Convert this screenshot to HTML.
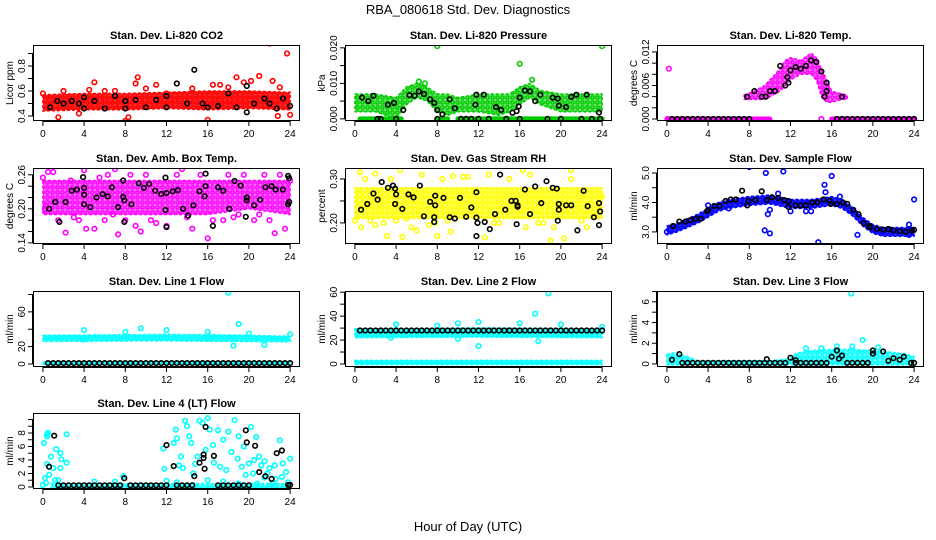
<!DOCTYPE html>
<html><head><meta charset="utf-8"><style>
html,body{margin:0;padding:0;background:#fff;}
svg{display:block;font-family:"Liberation Sans",Arial,sans-serif;}
</style></head><body>
<svg id="chart" width="936" height="540" viewBox="0 0 936 540" xmlns="http://www.w3.org/2000/svg">
<defs id="defs"></defs>
<text x="468" y="14" text-anchor="middle" font-size="13">RBA_080618  Std. Dev. Diagnostics</text>
<text x="468" y="531" text-anchor="middle" font-size="13">Hour of Day (UTC)</text>
</svg>
<script>
// ---------- data ----------
const xTicks = [0,4,8,12,16,20,24];

// P1 CO2
const co2BandX = [0,4,8,12,16,20,24];
const co2BandLo = [0.44,0.45,0.45,0.46,0.45,0.46,0.45];
const co2BandHi = [0.57,0.58,0.58,0.59,0.60,0.60,0.59];
const co2PtsX = [0,1.5,2,3.5,4.5,5,6,7,8,8.3,9,9.2,10,11,12,14.5,16,16.5,17.2,18,18.8,19.5,20.2,21,22,22.3,22.8,23,23.7,24];
const co2PtsY = [0.58,0.39,0.6,0.42,0.61,0.67,0.6,0.6,0.36,0.39,0.66,0.71,0.62,0.65,0.58,0.62,0.37,0.65,0.65,0.63,0.71,0.67,0.68,0.72,0.98,0.68,0.4,0.63,0.9,0.41];
const co2BlkX = [0.7,1.4,2,2.8,3.5,4,4,5,6,7,8,8,9,10,11,12,12,13,14,14.7,15.5,16,17,18,18.8,19.8,19.8,20.5,21.5,22,22.7,23.3,24];
const co2BlkY = [0.47,0.52,0.5,0.52,0.5,0.55,0.46,0.52,0.46,0.56,0.52,0.46,0.53,0.47,0.53,0.56,0.47,0.66,0.5,0.77,0.5,0.47,0.48,0.58,0.47,0.64,0.43,0.5,0.54,0.5,0.46,0.54,0.48];

// P2 Pressure
const prBandX = [0,2,4,5,6,7,8,9,10,12,14,15,16,17,18,20,22,24];
const prBandLo = [0.002,0.002,0.000,0.004,0.006,0.005,0.002,0.001,0.002,0.002,0.001,0.002,0.004,0.006,0.004,0.002,0.002,0.002];
const prBandHi = [0.007,0.007,0.006,0.009,0.010,0.009,0.007,0.007,0.006,0.007,0.007,0.007,0.009,0.010,0.008,0.007,0.007,0.007];
const prZeroStart = [0.5,8,10];
const prZeroEnd = [4.5,9,24];
const prPtsX = [8,24,16,17.2,6.2,6.8];
const prPtsY = [0.0205,0.0205,0.0155,0.011,0.0105,0.01];
const prBlkX = [0.7,1.3,1.8,2.2,2.5,3.2,3.8,4,4.7,5.3,5.8,6.2,6.7,7.3,7.7,8,8,8.5,9.2,9.7,10.3,10.8,11.3,11.7,11.8,12,12.5,13,13.7,14.2,14.7,15.3,15.7,15.9,16,16,16.5,17,17.5,18,18.7,19.2,19.7,19.8,20,20.5,21,21.5,22,22.5,23,23.7,23.8];
const prBlkY = [0.006,0.005,0.0065,0,0,0.004,0.0045,0,0.0025,0.0067,0.0065,0.0077,0.007,0.0055,0.0045,0.0025,0,0.0013,0.0055,0.003,0,0,0,0.004,0.0068,0,0.0068,0,0.0033,0.0025,0,0.0017,0.0022,0.0035,0.006,0,0.008,0.0077,0.005,0.0068,0,0.006,0.0057,0.0037,0,0.0033,0.0062,0.0068,0,0.0068,0,0.0018,0];

// P3 Temp
const tpBandX = [7.5,8.5,9.5,10,11,11.5,12,13,14,14.5,15,15.5,16,17,17.5];
const tpBandLo = [0.0035,0.0035,0.0035,0.004,0.005,0.006,0.007,0.008,0.008,0.007,0.004,0.003,0.003,0.0035,0.0035];
const tpBandHi = [0.0043,0.005,0.006,0.007,0.009,0.0105,0.011,0.0105,0.0118,0.011,0.009,0.007,0.005,0.0045,0.0043];
const tpZeroStart = [0,16];
const tpZeroEnd = [10,24];
const tpPtsX = [0.2,15,0.1];
const tpPtsY = [0.009,0,0];
const tpBlkX = [8.5,7.8,9.2,9.6,10,10.5,11,11.5,11.7,11.8,12,12.5,13,13.5,14,14.5,15,15.5,15.5,15.3,17];
const tpBlkY = [0.005,0.004,0.004,0.004,0.005,0.005,0.0095,0.006,0.0075,0.0065,0.0087,0.0093,0.009,0.0095,0.0105,0.0102,0.0085,0.0065,0.005,0.004,0.004];
const tpBlkZeroX = [0.5,1,1.5,2,2.5,3,3.5,4,4.5,5,5.5,6,6.5,7,7.5,8,16.5,17,17.5,18,18.5,19,19.5,20,20.5,21,21.5,22,22.5,23,23.5,24];

// P4 Amb Box Temp
const abBandX = [0,4,8,12,16,20,24];
const abBandLo = [0.19,0.19,0.19,0.19,0.19,0.2,0.19];
const abBandHi = [0.25,0.25,0.25,0.25,0.25,0.25,0.25];
const abPtsX = [0,0.5,1,1.5,2.2,2.7,3.5,4,4.2,5,5.5,6,6.3,7,7.3,8,8.5,9,9.5,10,11,12,13,13.5,14.5,15.3,16,16.5,17.5,18,19,19.5,20.5,21.5,22,22.5,23,23.5,24,0.3,3,6.8,10.5,14,18.5,21,0.2];
const abPtsY = [0.255,0.265,0.265,0.18,0.158,0.25,0.18,0.268,0.165,0.165,0.255,0.18,0.26,0.27,0.155,0.18,0.26,0.17,0.16,0.26,0.175,0.17,0.26,0.27,0.165,0.26,0.148,0.18,0.18,0.26,0.19,0.26,0.18,0.26,0.18,0.157,0.26,0.165,0.25,0.205,0.185,0.19,0.18,0.185,0.185,0.19,0.2];
const abBlkX = [0.6,1.2,1.6,2.2,2.8,3.3,3.9,4,4,4,4.6,5.2,5.8,6.3,6.7,7.3,7.8,7.8,7.9,7.9,8.6,9.3,9.8,10.3,10.9,11.5,12,11.9,11.9,12,12.6,13.1,13.6,14.1,14.6,15.2,15.7,15.8,15.8,16.5,17,17.5,18.1,18.6,19.2,19.7,19.8,19.8,20.5,21.1,21.6,22.2,22.6,23.3,23.8,23.9,23.8,23.9];
const abBlkY = [0.2,0.212,0.177,0.212,0.232,0.234,0.256,0.237,0.225,0.208,0.203,0.22,0.226,0.222,0.238,0.203,0.25,0.221,0.215,0.177,0.208,0.245,0.237,0.244,0.232,0.226,0.228,0.255,0.198,0.168,0.231,0.233,0.2,0.188,0.206,0.231,0.222,0.262,0.24,0.17,0.238,0.232,0.2,0.249,0.241,0.186,0.22,0.215,0.206,0.216,0.238,0.24,0.234,0.234,0.258,0.254,0.208,0.212];

// P5 Gas Stream RH
const rhBandX = [0,4,8,12,16,20,24];
const rhBandLo = [0.21,0.21,0.21,0.21,0.21,0.21,0.21];
const rhBandHi = [0.28,0.28,0.28,0.28,0.28,0.28,0.28];
const rhPtsX = [0,0.5,0.6,1,2,2,2.8,3.1,3.5,4.4,4.6,4,5.5,6,6.5,7.2,7.8,8,8.5,9.3,9.5,10.5,11,12.6,13,14,15,16.3,16.6,17,18.3,19,19.3,20.3,21,21,22.5,24,1.5,5,9,13.5,17.8,22];
const rhPtsY = [0.205,0.315,0.19,0.3,0.312,0.195,0.2,0.17,0.3,0.32,0.168,0.205,0.19,0.183,0.31,0.195,0.2,0.17,0.3,0.18,0.307,0.305,0.305,0.167,0.31,0.2,0.3,0.32,0.19,0.31,0.2,0.16,0.19,0.165,0.32,0.3,0.19,0.26,0.205,0.21,0.205,0.2,0.2,0.205];
const rhBlkX = [0.6,1.2,1.8,2.2,2.6,3.2,3.7,3.9,3.9,4,4.6,5.2,5.7,6.3,6.7,7.3,7.7,7.7,7.8,7.8,8.6,9.2,9.7,10.2,10.8,11.3,11.8,11.8,11.9,11.8,12.6,13.1,13.6,14.1,14.6,15.2,15.6,15.8,15.8,15.7,16.5,17,17.5,18.1,18.6,19.2,19.6,19.8,19.8,19.7,20.5,21,21.6,22.2,22.6,23.2,23.7,23.8,23.7];
const rhBlkY = [0.23,0.243,0.267,0.253,0.293,0.28,0.285,0.278,0.243,0.265,0.232,0.265,0.258,0.285,0.215,0.248,0.213,0.202,0.262,0.24,0.257,0.213,0.21,0.257,0.214,0.235,0.27,0.212,0.2,0.17,0.202,0.186,0.22,0.31,0.23,0.25,0.25,0.24,0.237,0.197,0.276,0.22,0.283,0.245,0.295,0.28,0.278,0.243,0.23,0.205,0.24,0.24,0.183,0.273,0.238,0.213,0.245,0.226,0.195];

// P6 Sample Flow
const sfBandX = [0,1,2,3,4,5,6,7,8,10,12,14,16,17,18,19,20,21,22,24];
const sfBandMid = [3.05,3.15,3.3,3.45,3.65,3.85,3.95,4.0,4.05,4.1,3.95,3.95,4.05,3.95,3.7,3.35,3.1,3.0,3.0,3.0];
const sfBandHalf = 0.15;
const sfPtsX = [8,9.6,11.3,15.3,16,9.5,10,14.7,18.5,24,4,6,10,9.8,12,13.5,14,15.4,23.5,23.5,0,10.8,16.8];
const sfPtsY = [5.2,5.0,5.05,4.6,4.9,3.05,2.95,2.65,2.9,4.1,3.9,3.8,3.75,3.6,3.7,3.7,3.7,4.35,3.25,2.9,3.0,4.3,4.2];
const sfBlkX = [0.6,1.2,1.8,2.3,2.8,3.3,3.9,4,4.6,5.1,5.7,6.2,6.7,7.3,7.8,7.9,8.6,9.2,9.7,10.2,10.8,11.4,11.8,11.8,12.5,13,13.5,14.1,14.6,15.2,15.8,15.9,16.5,17.1,17.5,18.1,18.6,19.1,19.7,19.7,20.4,21,21.5,22,22.6,23.2,23.8,24];
const sfBlkY = [3.2,3.35,3.35,3.4,3.45,3.45,3.7,3.75,3.88,3.88,4.05,4.1,4.1,4.4,3.9,4.05,4.08,4.38,4.08,4.18,4.15,4.08,4.05,3.85,3.9,3.9,3.9,4.0,4.0,4.1,4.05,3.95,3.95,4.0,3.95,3.75,3.6,3.3,3.2,3.15,3.1,3.08,3.1,3.05,3.02,3.0,3.05,3.07];

// P7 Line 1 Flow
const l1BandX = [0,12,18,24];
const l1BandLo = [26,26.5,26,25.5];
const l1BandHi = [33,34,33.5,32];
const l1ZeroLo = -0.5, l1ZeroHi = 2.5;
const l1PtsX = [18,19,18.5,4,8,9.5,12,16,20,21.5,24,16,3.9];
const l1PtsY = [82,46,21,39,37,41,39,37,35,22,34,29,28];
const l1BlkZeroX = [0.5,1,1.5,2,2.5,3,3.5,4,4.5,5,5.5,6,6.5,7,7.5,8,8.5,9,9.5,10,10.5,11,11.5,12,12.5,13,13.5,14,14.5,15,15.5,16,16.5,17,17.5,18,18.5,19,19.5,20,20.5,21,21.5,22,22.5,23,23.5,24];
const l1BlkZeroY = 1;

// P8 Line 2 Flow
const l2BandX = [0,12,24];
const l2BandLo = [22,22.5,22];
const l2BandHi = [29.5,30,29.5];
const l2ZeroLo = -0.5, l2ZeroHi = 3;
const l2PtsX = [18.8,17.5,4,8,10,12,16,20,24,17.8,12,3.5,10];
const l2PtsY = [59,42,33,32,34,35,34,33,31,19,15,22,21];
const l2BlkZeroX = [0.5,1,1.5,2,2.5,3,3.5,4,4.5,5,5.5,6,6.5,7,7.5,8,8.5,9,9.5,10,10.5,11,11.5,12,12.5,13,13.5,14,14.5,15,15.5,16,16.5,17,17.5,18,18.5,19,19.5,20,20.5,21,21.5,22,22.5,23,23.5,24];
const l2BlkZeroY = 28;

// P9 Line 3 Flow
const l3BandX = [0,0.5,1,2,3,5,10,12,12.5,14,16,18,20,22,23,24];
const l3BandLo = [-0.1,-0.1,-0.1,-0.1,-0.1,-0.1,-0.1,-0.1,-0.1,-0.1,-0.1,-0.1,-0.1,-0.1,-0.1,-0.1];
const l3BandHi = [0.9,1.05,1.0,0.7,0.3,0.3,0.3,0.5,1.0,1.3,1.4,1.4,1.3,1.1,1.0,0.7];
const l3PtsX = [17.9,19,18,20.5,13.5,15,16.5];
const l3PtsY = [6.8,2.3,1.7,1.6,1.5,1.5,1.7];
const l3BlkX = [0.5,1.2,9.7,12,12.5,16,16.5,16.7,17,20,20,21,21.5,22,22.6,23,23.7];
const l3BlkY = [0.4,0.95,0.45,0.6,0.35,0.7,1.3,0.5,0.8,1.3,1.0,1.2,0.3,0.55,0.4,0.7,0.1];
const l3BlkZeroX = [1.5,2,2.5,3,3.5,4,4.5,5,5.5,6,6.5,7,7.5,8,8.5,9,9.5,10,10.5,11,11.5,12.5,13,13.5,14,14.5,15,15.5,17.5,18,18.5,19,19.5,24];
const l3BlkZeroY = 0.1;

// P10 Line 4 Flow
const l4BandX = [0.8,24];
const l4BandLo = [-0.1,-0.1];
const l4BandHi = [0.5,0.5];
const l4PtsX = [0.1,0.2,0.4,0.4,0.5,0.4,0.6,0.8,1,1.3,1.7,1.8,1.7,2.3,2.3,1.2,1.5,7.8,7,5,12,11.7,11.8,12.7,12.9,13,13.2,13.4,13.6,13.8,14,14.2,14.4,14.6,14.8,15,15.2,15.5,15.8,16,16.2,16.5,16.6,17,17.2,17.5,17.8,18,18.3,18.6,18.9,19,19.3,19.5,19.7,20,20.2,20.4,20.7,21,21.2,21.5,21.8,22,22.3,22.6,23,23.3,23.6,23.8,24,20.8,19,17.5,16,14.5,13,21.5,22.5,23.2,20.5,0,0.3];
const l4PtsY = [6.5,1.3,7.5,7.8,8,3.4,1.8,4.5,2.8,5.6,5,4.1,2.8,7.8,3.6,1,1,1.6,0.8,0.8,0.9,5.7,2.7,6.5,8.5,7.2,3.2,4.5,2.8,9.8,9,7.5,6.5,2,3.4,4.5,9.8,9.5,5.5,10.2,8.5,6.2,3.6,8.4,3,7,2.5,8.2,5.2,9.9,4.2,7.5,3,6,1.8,3.5,8.9,2,7.4,4.5,3.2,1.4,2,2.8,0.5,1.2,6.9,3.5,2.2,0.7,4.2,0.5,0.5,0.8,1,0.3,0.7,3.8,3.2,1.5,4,0.3,0.6];
const l4BlkX = [0.6,1.1,7.9,12,12.7,14.7,15.2,15.6,15.6,15.7,15.8,16.6,19.7,19.8,20.6,21,21.6,22.2,22.7,23.2,23.8,24];
const l4BlkY = [3,7.6,1.3,6.2,3.1,1.6,3.6,4.3,4.8,2.7,8.9,4.6,8.4,6.6,6.1,2.2,1.6,1.2,5,5.4,0.3,0.3];
const l4BlkZeroX = [1.5,2,2.5,3,3.5,4,4.5,5,5.5,6,6.5,7,7.5,8.5,9,9.5,10,10.5,11,11.5,12,13,13.5,14,14.5,17,17.5,18,18.5,19,19.5,20];
const l4BlkZeroY = 0.25;

// ---------- layout ----------
const colL = [33,345,657], colW = 267;
const rowT = [45,168,291,413], rowH = 76;
const svg = document.getElementById('chart');
const defs = document.getElementById('defs');
const NS = 'http://www.w3.org/2000/svg';
function mk(tag, attrs, parent){const e=document.createElementNS(NS,tag);for(const k in attrs)e.setAttribute(k,attrs[k]);(parent||svg).appendChild(e);return e;}
const patMade = {};
function pattern(col, dense){
  const id='pat'+col.replace('#','')+(dense?'d':'');
  if(!patMade[id]){
    patMade[id]=1;
    const p=mk('pattern',{id:id,width:5,height:5,patternUnits:'userSpaceOnUse'},defs);
    mk('rect',{x:0,y:0,width:5,height:5,fill:col,opacity:dense?0.85:0.6},p);
    mk('circle',{cx:2.5,cy:2.5,r:1.6,fill:'none',stroke:col,'stroke-width':1.4},p);
  }
  return 'url(#'+id+')';
}

function panel(p){
  const L=colL[p.col], T=rowT[p.row], R=L+colW, B=T+rowH;
  const g=mk('g',{});
  
  
  const xs=v=>L+(v+0.96)/25.92*colW;
  const ys=v=>B-(v-p.ymin)/(p.ymax-p.ymin)*rowH;
  const clip='c'+p.name;
  const cp=mk('clipPath',{id:clip},g); mk('rect',{x:L,y:T,width:colW,height:rowH},cp);
  const dg=mk('g',{'clip-path':'url(#'+clip+')'},g);
  const col=p.color;
  const fill=pattern(col, p.dense);
  function band(bx,lo,hi,nm){
    let d='M'+bx.map((x,i)=>xs(x).toFixed(1)+','+ys(hi[i]).toFixed(1)).join('L');
    d+='L'+bx.map((x,i)=>[x,lo[i]]).reverse().map(q=>xs(q[0]).toFixed(1)+','+ys(q[1]).toFixed(1)).join('L')+'Z';
    const e=mk('path',{d:d,fill:fill,stroke:col,'stroke-width':1.5,'stroke-dasharray':'3 2','stroke-linejoin':'round'},dg);
    
    
  }
  if(p.band) band(p.band[0],p.band[1],p.band[2],'data-band');
  if(p.zeroBand){ band([0,24],[p.zeroBand[0],p.zeroBand[0]],[p.zeroBand[1],p.zeroBand[1]],'zero-band'); }
  if(p.zeroRuns){
    p.zeroRuns[0].forEach((s,i)=>{
      const e=mk('line',{x1:xs(s),x2:xs(p.zeroRuns[1][i]),y1:ys(0),y2:ys(0),stroke:col,'stroke-width':5,'stroke-linecap':'round'},dg);
      
      
    });
  }
  function pts(X,Y,c,nm){
    X.forEach((x,i)=>{
      const e=mk('circle',{cx:xs(x).toFixed(1),cy:ys(Y[i]).toFixed(1),r:2.3,fill:'none',stroke:c,'stroke-width':1.6},dg);
      
      
    });
  }
  if(p.pts) pts(p.pts[0],p.pts[1],col,'data-point');
  if(p.blkZero) pts(p.blkZero[0],p.blkZero[0].map(()=>p.blkZero[1]),'#000','avg-point');
  if(p.blk) pts(p.blk[0],p.blk[1],'#000','avg-point');
  const bx=mk('rect',{x:L+0.5,y:T+0.5,width:colW-1,height:rowH-1,fill:'none',stroke:'#000','stroke-width':1},g);
  
  
  mk('line',{x1:xs(0),x2:xs(24),y1:B+0.5,y2:B+0.5,stroke:'#000'},g);
  xTicks.forEach(t=>{
    mk('line',{x1:xs(t),x2:xs(t),y1:B,y2:B+5,stroke:'#000'},g);
    const tx=mk('text',{x:xs(t),y:B+16,'text-anchor':'middle','font-size':10},g);
    tx.textContent=t;
    
    
  });
  const yt=p.yticks;
  mk('line',{x1:L-0.5,x2:L-0.5,y1:ys(yt[0]),y2:ys(yt[yt.length-1]),stroke:'#000'},g);
  yt.forEach(t=>{ mk('line',{x1:L-5,x2:L,y1:ys(t),y2:ys(t),stroke:'#000'},g); });
  p.ylabels.forEach((t,i)=>{
    const y=ys(p.ylabelVals[i]);
    const tx=mk('text',{x:L-8,y:y,'text-anchor':'middle','font-size':10,transform:'rotate(-90 '+(L-8)+' '+y+')'},g);
    tx.textContent=t;
    
    
  });
  const yl=mk('text',{x:L-20,y:T+rowH/2,'text-anchor':'middle','font-size':10,transform:'rotate(-90 '+(L-20)+' '+(T+rowH/2)+')'},g);
  yl.textContent=p.ylab;
  
  
  const ti=mk('text',{x:L+colW/2,y:T-6,'text-anchor':'middle','font-size':11,'font-weight':'bold'},g);
  ti.textContent=p.title;
  
  
}

panel({name:'co2-panel',col:0,row:0,title:'Stan. Dev. Li-820 CO2',ylab:'Licor ppm',color:'#ff0000',dense:true,ymin:0.36,ymax:0.968,
  yticks:[0.4,0.5,0.6,0.7,0.8,0.9],ylabels:['0.4','0.6','0.8'],ylabelVals:[0.4,0.6,0.8],
  band:[co2BandX,co2BandLo,co2BandHi],pts:[co2PtsX,co2PtsY],blk:[co2BlkX,co2BlkY]});
panel({name:'pressure-panel',col:1,row:0,title:'Stan. Dev. Li-820 Pressure',ylab:'kPa',color:'#00cc00',ymin:-0.0006,ymax:0.0208,
  yticks:[0,0.005,0.01,0.015,0.02],ylabels:['0.000','0.010','0.020'],ylabelVals:[0,0.01,0.02],
  band:[prBandX,prBandLo,prBandHi],zeroRuns:[prZeroStart,prZeroEnd],pts:[prPtsX,prPtsY],blk:[prBlkX,prBlkY]});
panel({name:'temp-panel',col:2,row:0,title:'Stan. Dev. Li-820 Temp.',ylab:'degrees C',color:'#ff00ff',ymin:-0.00036,ymax:0.01325,
  yticks:[0,0.002,0.004,0.006,0.008,0.01,0.012],ylabels:['0.000','0.006','0.012'],ylabelVals:[0,0.006,0.012],
  band:[tpBandX,tpBandLo,tpBandHi],zeroRuns:[tpZeroStart,tpZeroEnd],pts:[tpPtsX,tpPtsY],blk:[tpBlkX,tpBlkY],blkZero:[tpBlkZeroX,0]});
panel({name:'ambbox-panel',col:0,row:1,title:'Stan. Dev. Amb. Box Temp.',ylab:'degrees C',color:'#ff00ff',ymin:0.138,ymax:0.272,
  yticks:[0.14,0.16,0.18,0.2,0.22,0.24,0.26],ylabels:['0.14','0.20','0.26'],ylabelVals:[0.14,0.2,0.26],
  band:[abBandX,abBandLo,abBandHi],pts:[abPtsX,abPtsY],blk:[abBlkX,abBlkY]});
panel({name:'rh-panel',col:1,row:1,title:'Stan. Dev. Gas Stream RH',ylab:'percent',color:'#ffff00',ymin:0.152,ymax:0.325,
  yticks:[0.2,0.25,0.3],ylabels:['0.20','0.30'],ylabelVals:[0.2,0.3],
  band:[rhBandX,rhBandLo,rhBandHi],pts:[rhPtsX,rhPtsY],blk:[rhBlkX,rhBlkY]});
panel({name:'sampleflow-panel',col:2,row:1,title:'Stan. Dev. Sample Flow',ylab:'ml/min',color:'#0000ff',dense:true,ymin:2.59,ymax:5.17,
  yticks:[3,3.5,4,4.5,5],ylabels:['3.0','4.0','5.0'],ylabelVals:[3,4,5],
  band:[sfBandX,sfBandMid.map(v=>v-sfBandHalf),sfBandMid.map(v=>v+sfBandHalf)],pts:[sfPtsX,sfPtsY],blk:[sfBlkX,sfBlkY]});
panel({name:'line1-panel',col:0,row:2,title:'Stan. Dev. Line 1 Flow',ylab:'ml/min',color:'#00ffff',dense:true,ymin:-3.5,ymax:84,
  yticks:[0,20,40,60,80],ylabels:['0','20','60'],ylabelVals:[0,20,60],
  band:[l1BandX,l1BandLo,l1BandHi],zeroBand:[l1ZeroLo,l1ZeroHi],pts:[l1PtsX,l1PtsY],blkZero:[l1BlkZeroX,l1BlkZeroY]});
panel({name:'line2-panel',col:1,row:2,title:'Stan. Dev. Line 2 Flow',ylab:'ml/min',color:'#00ffff',dense:true,ymin:-2.5,ymax:61,
  yticks:[0,10,20,30,40,50,60],ylabels:['0','20','40','60'],ylabelVals:[0,20,40,60],
  band:[l2BandX,l2BandLo,l2BandHi],zeroBand:[l2ZeroLo,l2ZeroHi],pts:[l2PtsX,l2PtsY],blkZero:[l2BlkZeroX,l2BlkZeroY]});
panel({name:'line3-panel',col:2,row:2,title:'Stan. Dev. Line 3 Flow',ylab:'ml/min',color:'#00ffff',ymin:-0.3,ymax:7.05,
  yticks:[0,1,2,3,4,5,6,7],ylabels:['0','2','4','6'],ylabelVals:[0,2,4,6],
  band:[l3BandX,l3BandLo,l3BandHi],pts:[l3PtsX,l3PtsY],blk:[l3BlkX,l3BlkY],blkZero:[l3BlkZeroX,l3BlkZeroY]});
panel({name:'line4-panel',col:0,row:3,title:'Stan. Dev. Line 4 (LT) Flow',ylab:'ml/min',color:'#00ffff',ymin:-0.3,ymax:10.96,
  yticks:[0,1,2,3,4,5,6,7,8,9,10],ylabels:['0','2','4','6','8'],ylabelVals:[0,2,4,6,8],
  band:[l4BandX,l4BandLo,l4BandHi],pts:[l4PtsX,l4PtsY],blk:[l4BlkX,l4BlkY],blkZero:[l4BlkZeroX,l4BlkZeroY]});
</script>
</body></html>
